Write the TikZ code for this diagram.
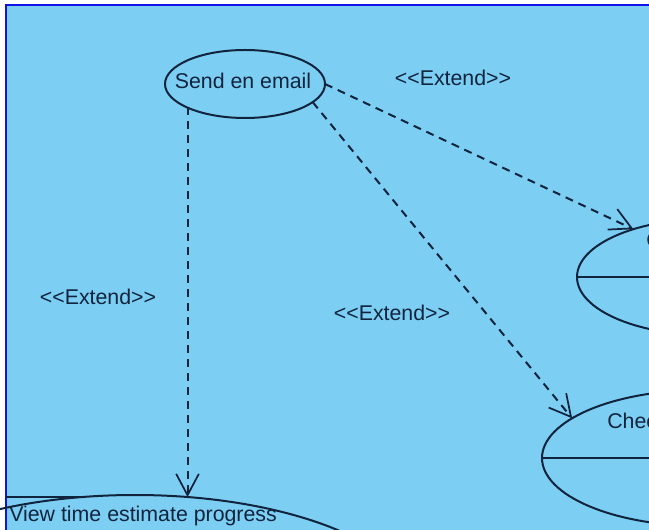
\documentclass[tikz,border=0pt]{standalone}
\usepackage{fontspec}
\setmainfont{Liberation Sans}
\usepackage{tikz}
\usetikzlibrary{arrows.meta,shapes.geometric}
\definecolor{skyfill}{RGB}{125,206,243}
\definecolor{inkline}{RGB}{16,36,62}
\definecolor{framblue}{RGB}{18,18,228}
\newcommand{\extendtag}{{<}{<}Extend{>}{>}}

\begin{document}
\begin{tikzpicture}[x=0.75pt,y=0.75pt,yscale=-1,
  usecase/.style={ellipse,draw=inkline,line width=1.5pt,inner sep=0pt,outer sep=0pt},
  extendline/.style={draw=inkline,line width=1.5pt,dash pattern={on 6pt off 4.5pt},
    -{Straight Barb[length=16pt,width=17pt,line width=1.3pt]}},
  divider/.style={draw=inkline,line width=1.1pt},
  txt/.style={inner sep=0pt,text=inkline,font=\fontsize{16pt}{19pt}\selectfont}]
\path[use as bounding box] (0,0) rectangle (649,530);
\clip (0,0) rectangle (649,530);

%Frame
\draw[fill=skyfill,draw=framblue,line width=1.5pt] (5.5,5.5) rectangle (670,550);

%Use cases
\node[usecase,minimum width=120pt,minimum height=51pt] (send) at (245,84) {};
\node[usecase,minimum width=195pt,minimum height=87pt] (chkA) at (707,277) {};
\node[usecase,minimum width=240pt,minimum height=102pt] (chkB) at (702,458) {};
\node[usecase,minimum width=430.5pt,minimum height=180pt] (view) at (135,615) {};
\coordinate (edge) at (5.5,497);
\coordinate (edgeend) at (86,497);

%Dividers
\draw[divider] (chkA.west) -- (chkA.east);
\draw[divider] (chkB.west) -- (chkB.east);
\draw[divider] (edge) -- (edgeend);

%Extend connectors
\draw[extendline] (send.east) -- (chkA.147);
\draw[extendline] (send.-15) -- (chkB.163);
\draw[extendline] (view.66 |- send.201) -- (view.66);

% Text Node
\node[txt] (sendtxt) at (243,81) {Send en email};
% Text Node
\node[txt,anchor=west] (chkAtxt) at (646,240) {C};
% Text Node
\node[txt,anchor=west] (chkBtxt) at (607,421) {Chec};
% Text Node
\node[txt,anchor=west] (viewtxt) at (9,516) {View time estimate progress};
% Text Node
\node[txt] (extA) at (453,78) {\extendtag};
% Text Node
\node[txt] (extB) at (98,297) {\extendtag};
% Text Node
\node[txt] (extC) at (392,313) {\extendtag};

\end{tikzpicture}
\end{document}
